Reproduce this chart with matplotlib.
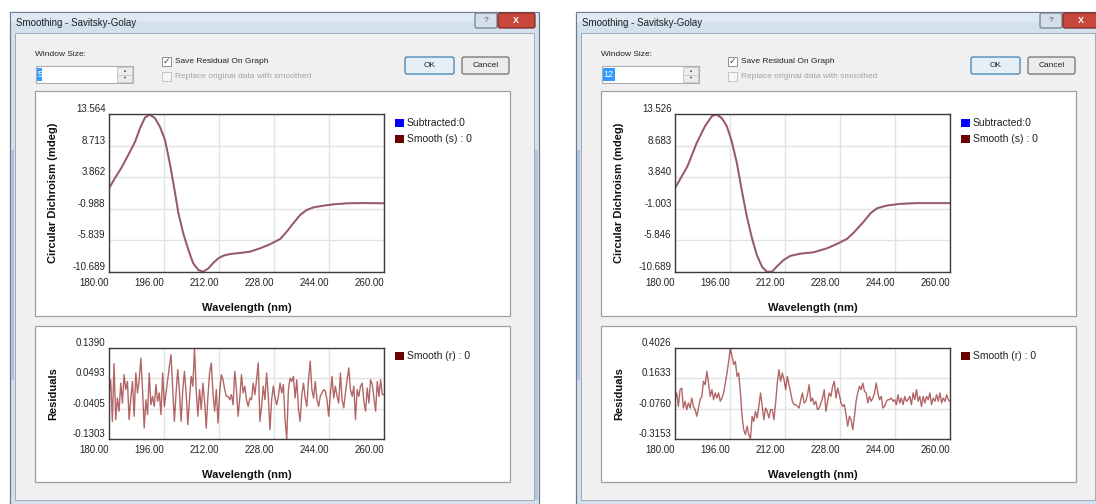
import numpy as np
import matplotlib
matplotlib.use('Agg')
import matplotlib.pyplot as plt
from matplotlib.patches import Rectangle, FancyBboxPatch
from matplotlib.transforms import ScaledTranslation

plt.rcParams['font.family'] = ['Liberation Sans', 'DejaVu Sans']

W, H = 1096, 504

# ---- data ----
wl_ticks = [180, 196, 212, 228, 244, 260]

# window size 5
cd_ticks_5 = [-10.689, -5.839, -0.988, 3.862, 8.713, 13.564]
res_ticks_5 = [-0.1303, -0.0405, 0.0493, 0.1390]
cd_wl_5 = [180.0, 181.7, 183.7, 185.6, 187.6, 189.0, 190.5, 191.9, 193.4, 194.8,
           196.3, 197.7, 198.9, 200.2, 201.6, 203.1, 204.5, 206.0, 207.4, 208.9,
           210.4, 211.8, 213.3, 215.2, 218.1, 221.0, 223.9, 226.8, 229.8, 231.7,
           233.6, 235.6, 237.5, 239.5, 242.4, 245.3, 249.2, 254.0, 259.8]
cd_5 = [2.15, 3.69, 5.38, 7.27, 9.32, 11.36, 13.05, 13.46, 12.90, 11.62,
        9.57, 5.99, 2.41, -1.68, -4.76, -7.31, -9.36, -10.38, -10.65, -10.13,
        -9.26, -8.59, -8.18, -7.93, -7.77, -7.57, -7.06, -6.44, -5.62, -4.50,
        -3.22, -1.94, -1.17, -0.76, -0.51, -0.30, -0.15, -0.10, -0.15]
res_5 = [0.001, 0.045, -0.078, 0.093, -0.073, -0.009, -0.048, 0.035, -0.024, 0.060,
         0.016, 0.040, -0.073, -0.009, 0.040, -0.063, 0.065, 0.006, 0.045, 0.109,
         0.016, -0.098, -0.014, -0.058, 0.065, -0.029, -0.004, -0.034, 0.031, -0.019,
         0.006, -0.058, 0.065, -0.034, 0.006, 0.045, 0.085, 0.119, 0.016, -0.078,
         0.006, 0.075, 0.011, -0.078, 0.016, 0.070, 0.006, -0.088, -0.014, 0.055,
         0.026, 0.139, 0.016, -0.063, 0.016, -0.043, 0.035, -0.019, -0.098, -0.004,
         0.065, 0.095, 0.006, -0.048, 0.016, -0.083, 0.006, 0.060, 0.045, 0.016,
         -0.004, -0.004, -0.014, 0.001, -0.029, 0.070, 0.016, -0.063, -0.009, 0.060,
         0.006, 0.026, -0.014, -0.034,
         -0.009, -0.014, 0.035, 0.001, 0.045, 0.095, -0.078, -0.034, 0.026, -0.014,
         0.065, -0.004, -0.103, -0.014, 0.026, -0.009, -0.029, -0.004, 0.035, 0.006,
         0.031, -0.073, -0.130, 0.016, 0.050, 0.040, 0.055, -0.009, 0.045, -0.043,
         -0.078, 0.001, 0.035, -0.009, -0.034, 0.045, 0.100, 0.016, -0.009, 0.040,
         -0.014, -0.034, -0.004, 0.006, 0.016, 0.011, -0.014, -0.063, 0.001, 0.055,
         -0.009, 0.026, -0.004, -0.024, 0.065, -0.014, -0.038, 0.006, 0.045, 0.080,
         0.016, -0.004, 0.026, -0.073, 0.016, -0.004, 0.026, 0.035, -0.019, -0.048,
         0.021, -0.024, 0.045, 0.031, -0.009, -0.048, 0.040, -0.004, 0.045, 0.001,
         0.001]

# window size 12
cd_ticks_12 = [-10.689, -5.846, -1.003, 3.840, 8.683, 13.526]
res_ticks_12 = [-0.3153, -0.0760, 0.1633, 0.4026]
cd_wl_12 = [180.0, 183.6, 186.3, 188.7, 190.7, 192.0, 193.6, 195.1, 196.5, 198.0,
            199.4, 200.9, 202.4, 203.8, 205.3, 206.7, 208.2, 209.6, 211.6, 213.5,
            216.4, 220.3, 224.2, 227.1, 230.0, 232.0, 234.9, 236.9, 238.8, 241.7,
            245.6, 250.5, 260.0]
cd_12 = [2.16, 5.49, 9.07, 11.63, 13.17, 13.47, 12.91, 11.63, 9.33, 6.00,
         1.90, -2.19, -5.52, -8.08, -9.87, -10.64, -10.64, -9.87, -8.85, -8.23,
         -7.88, -7.67, -7.06, -6.39, -5.62, -4.65, -2.96, -1.68, -0.91, -0.50,
         -0.24, -0.13, -0.13]
res_12 = [-0.005, 0.048, -0.058, 0.074, 0.087, -0.071, -0.018, -0.084, -0.031, -0.071,
          0.008, -0.058, -0.084, -0.136, -0.071, -0.005, 0.021, 0.140, 0.113, 0.218,
          0.126, 0.021, 0.074, -0.005, 0.048, 0.008, 0.048, -0.018, 0.008, 0.048,
          0.126, 0.205, 0.297, 0.403, 0.337, 0.271, 0.297, 0.179, 0.205, 0.048,
          -0.136, -0.242, -0.281, -0.215, -0.281, -0.315, -0.136, -0.176, -0.097, -0.150,
          -0.058, 0.048, -0.058, -0.163, -0.071, -0.097, -0.150, -0.084, -0.084, -0.163,
          -0.031, 0.126, 0.232, 0.140, 0.205, 0.153, 0.074, 0.179, 0.113, 0.048,
          -0.018, -0.044, -0.044, -0.058, -0.071, -0.005, 0.048, -0.031, -0.018, 0.034,
          0.113, -0.018, 0.008, -0.044,
          -0.018, -0.084, -0.071, -0.031, 0.008, 0.074, -0.097, -0.018, 0.048, 0.021,
          0.100, 0.140, 0.008, 0.087, 0.034, -0.031, -0.058, -0.044, -0.123, -0.215,
          -0.136, -0.163, -0.242, -0.136, -0.018, 0.048, 0.100, 0.074, 0.126, 0.061,
          0.048, -0.031, 0.021, -0.018, 0.008, 0.048, 0.126, 0.048, -0.005, 0.021,
          -0.071, -0.058, -0.018, -0.005, -0.005, 0.008, -0.018, -0.005, -0.044, 0.034,
          -0.031, 0.008, -0.044, 0.021, -0.018, -0.005, 0.021, -0.044, 0.048, -0.005,
          0.074, -0.018, 0.021, -0.058, 0.021, -0.031, 0.021, -0.005, 0.048, -0.044,
          0.008, -0.018, 0.034, -0.018, 0.048, -0.031, 0.008, -0.018, 0.034, -0.005,
          -0.018]

# sampling grid of the residual traces (one reading every ~0.5 nm)
res_wl_5 = np.linspace(180, 260, len(res_5))
res_wl_12 = np.linspace(180, 260, len(res_12))

fig = plt.figure(figsize=(W / 100, H / 100), dpi=100)
bg = fig.add_axes([0, 0, 1, 1])
bg.set_xlim(0, W)
bg.set_ylim(H, 0)
bg.axis('off')


def rect(x0, y0, x1, y1, fc, ec='none', lw=0.8, **kw):
    bg.add_patch(Rectangle((x0, y0), x1 - x0, y1 - y0, fc=fc, ec=ec, lw=lw, **kw))


def button(x0, y0, x1, y1, fc, ec):
    bg.add_patch(FancyBboxPatch((x0, y0), x1 - x0, y1 - y0,
                                boxstyle='round,pad=0,rounding_size=2',
                                fc=fc, ec=ec, lw=0.9))


def draw_window(x0, x1, win_text, hl_w):
    # aero frame + body
    rect(x0, 12, x1, 506, '#d3e0ee', '#6d7b8d', 0.9)
    rect(x0 + 1, 13, x1 - 1, 22, '#dfe9f5')
    rect(x0 + 1, 150, x0 + 4, 380, '#afc2d8')
    rect(x1 - 4, 150, x1 - 1, 500, '#b5c7dc')
    rect(x0 + 5, 33, x1 - 5, 500, '#f0f0f0', '#9eabbb', 0.7)
    bg.text(x0 + 6, 23.5, 'Smoothing - Savitsky-Golay', fontsize=7,
            color='#1e1e1e', va='center')

    # caption buttons
    bx = x1 - 64 if x1 < W else 1040
    button(bx, 13, bx + 22, 28, '#d4dfeb', '#70808f')
    bg.text(bx + 11, 20.5, '?', fontsize=6, color='#4d5b6b', ha='center', va='center')
    button(bx + 23, 13, bx + 60, 28, '#c8473d', '#7d2b25')
    bg.text(bx + 41, 20.5, 'X', fontsize=6.5, color='white', ha='center',
            va='center', fontweight='bold')

    lx = x0 + 25
    bg.text(lx, 54, 'Window Size:', fontsize=6, color='#222222', va='center')
    rect(lx + 1, 66, lx + 98, 83, 'white', '#abadb3', 0.8)
    rect(lx + 82, 67, lx + 97, 82, '#ececec', '#c5c5c5', 0.6)
    bg.plot([lx + 82, lx + 97], [74.5, 74.5], color='#c5c5c5', lw=0.6)
    bg.text(lx + 89.5, 70.8, '▲', fontsize=3, color='#555555', ha='center', va='center')
    bg.text(lx + 89.5, 78.3, '▼', fontsize=3, color='#555555', ha='center', va='center')
    rect(lx + 2, 68, lx + 2 + hl_w, 81, '#3399ff')
    bg.text(lx + 2.5, 74.5, win_text, fontsize=6.5, color='white', va='center')

    cx = x0 + 152
    rect(cx, 57, cx + 9, 66, 'white', '#8e8f8f', 0.7)
    bg.text(cx + 4.5, 61.5, '✓', fontsize=6.5, color='#2b4a7a', ha='center',
            va='center', fontweight='bold')
    bg.text(cx + 13, 61.5, 'Save Residual On Graph', fontsize=6, color='#222222',
            va='center')
    rect(cx, 72, cx + 9, 81, '#f5f5f5', '#c4c4c4', 0.7)
    bg.text(cx + 13, 76.5, 'Replace original data with smoothed', fontsize=6,
            color='#a3a3a3', va='center')

    ox = x0 + 395
    button(ox, 57, ox + 49, 74, '#e6eef6', '#3c7fb1')
    bg.text(ox + 24.5, 65.5, 'OK', fontsize=6, ha='center', va='center', color='#222222')
    button(ox + 57, 57, ox + 104, 74, '#ebebeb', '#707070')
    bg.text(ox + 80.5, 65.5, 'Cancel', fontsize=6, ha='center', va='center',
            color='#222222')

    # graph panels
    rect(x0 + 25, 91, x0 + 500, 316, 'white', '#a0a0a0', 0.9)
    rect(x0 + 25, 326, x0 + 500, 482, 'white', '#a0a0a0', 0.9)


def frac(x0, y0, x1, y1):
    return [x0 / W, 1 - y1 / H, (x1 - x0) / W, (y1 - y0) / H]


def style_axes(ax, yticks, fmt):
    ax.set_xlim(180, 260)
    ax.set_ylim(yticks[0], yticks[-1])
    ax.set_xticks(wl_ticks)
    ax.set_xticklabels(['%.2f' % t for t in wl_ticks], fontsize=7, color='#222222')
    ax.set_yticks(yticks)
    ax.set_yticklabels([fmt % t for t in yticks], fontsize=7, color='#222222')
    ax.tick_params(length=0, pad=2.5)
    ax.tick_params(axis='x', pad=4)
    for lab in ax.get_xticklabels():
        lab.set_ha('right')
    shift = ScaledTranslation(0, 0.06, fig.dpi_scale_trans)
    for lab in ax.get_yticklabels():
        lab.set_transform(lab.get_transform() + shift)
    ax.grid(color='#e2e2e2', lw=1)
    ax.set_axisbelow(True)
    for s in ax.spines.values():
        s.set_color('#3c3c3c')
        s.set_linewidth(1)


def legend_item(x, y, color, label):
    rect(x, y - 4, x + 9, y + 4, color)
    bg.text(x + 12, y, label, fontsize=7.5, color='#222222', va='center')


def draw_charts(x0, cd_wl, cd, cd_ticks, res_wl, res, res_ticks):
    ax = fig.add_axes(frac(x0 + 99, 114, x0 + 374, 272))
    ax.plot(cd_wl, cd, color='#2a2aff', lw=0.8)
    ax.plot(cd_wl, cd, color='#a25a5a', lw=1.5, alpha=0.85)
    style_axes(ax, cd_ticks, '%.3f')
    bg.text(x0 + 237, 308, 'Wavelength (nm)', fontsize=8, fontweight='bold',
            ha='center', va='center', color='#111111')
    bg.text(x0 + 43, 193, 'Circular Dichroism (mdeg)', fontsize=8, fontweight='bold',
            ha='center', va='center', rotation=90, color='#111111')
    legend_item(x0 + 385, 123, '#0000ff', 'Subtracted:0')
    legend_item(x0 + 385, 139, '#6b0000', 'Smooth (s) : 0')

    axr = fig.add_axes(frac(x0 + 99, 348, x0 + 374, 439))
    axr.plot(res_wl, res, color='#800000', lw=1.0, alpha=0.6)
    style_axes(axr, res_ticks, '%.4f')
    bg.text(x0 + 237, 475, 'Wavelength (nm)', fontsize=8, fontweight='bold',
            ha='center', va='center', color='#111111')
    bg.text(x0 + 43, 394, 'Residuals', fontsize=8, fontweight='bold',
            ha='center', va='center', rotation=90, color='#111111')
    legend_item(x0 + 385, 356, '#6b0000', 'Smooth (r) : 0')


draw_window(10, 539, '5', 5)
draw_window(576, 1100, '12', 12)
draw_charts(10, cd_wl_5, cd_5, cd_ticks_5, res_wl_5, res_5, res_ticks_5)
draw_charts(576, cd_wl_12, cd_12, cd_ticks_12, res_wl_12, res_12, res_ticks_12)

fig.savefig('out.png', dpi=100, facecolor='white')
